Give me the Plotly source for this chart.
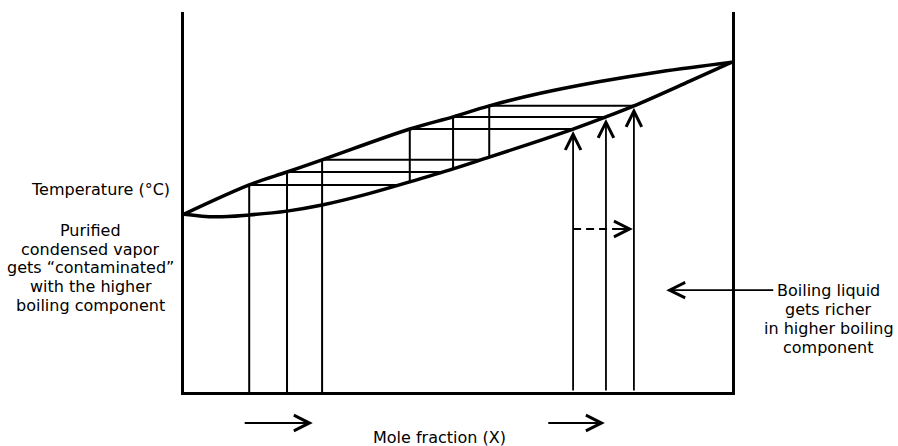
import plotly.graph_objects as go

# Vapour (dew point) curve: mole fraction vs temperature
X_VAPOR = [0.000, 0.119, 0.188, 0.252, 0.412, 0.491, 0.557, 0.650, 0.759, 0.869, 1.000]
T_VAPOR = [46.8, 54.5, 57.9, 61.1, 69.2, 72.4, 75.3, 78.6, 81.7, 84.3, 86.8]

# Liquid (boiling point) curve
X_LIQUID = [0.000, 0.057, 0.119, 0.188, 0.252, 0.327, 0.412, 0.491, 0.557, 0.631,
            0.710, 0.770, 0.821, 0.923, 1.000]
T_LIQUID = [46.8, 46.1, 46.6, 47.6, 49.2, 51.8, 55.3, 58.7, 61.8, 65.3,
            69.2, 72.4, 75.3, 81.8, 86.8]

# Three distillation staircases: boiling liquid -> vapour -> condensate -> vapour
X_BOIL = [0.710, 0.770, 0.821]
T_BOIL = [69.2, 72.4, 75.3]
X_FIRST_VAPOR = [0.412, 0.491, 0.557]
T_FIRST_CONDENSATE = [55.3, 58.7, 61.8]
X_SECOND_LIQUID = [0.393, 0.473, 0.540]
T_SECOND = [54.5, 57.9, 61.1]
X_SECOND_VAPOR = [0.119, 0.188, 0.252]

# Dashed shift of the boiling liquid composition
T_SHIFT = 42.9
# "Boiling liquid gets richer" pointer
X_RICHER = [0.880, 1.078]
T_RICHER = 26.8
# Direction arrows under the composition axis
X_AXIS_ARROWS = [(0.108, 0.235), (0.662, 0.768)]

LEFT_LINES = ["Purified", "condensed vapor", "gets \u201ccontaminated\u201d",
              "with the higher", "boiling component"]
RIGHT_LINES = ["Boiling liquid", "gets richer", "in higher boiling", "component"]

FONT = dict(family="DejaVu Sans", size=16, color="black")
INK = "black"

fig = go.Figure()

# Tie lines and condensation steps
tx, ty = [], []
for i in range(len(X_BOIL)):
    tx += [X_BOIL[i], X_FIRST_VAPOR[i], X_FIRST_VAPOR[i], None]
    ty += [T_BOIL[i], T_BOIL[i], T_FIRST_CONDENSATE[i], None]
    tx += [X_SECOND_LIQUID[i], X_SECOND_VAPOR[i], X_SECOND_VAPOR[i], None]
    ty += [T_SECOND[i], T_SECOND[i], 0, None]
fig.add_trace(go.Scatter(x=tx, y=ty, mode="lines",
                         line=dict(color=INK, width=2), hoverinfo="skip"))

# Dashed composition shift
fig.add_trace(go.Scatter(x=[X_BOIL[0], X_BOIL[2] - 0.02], y=[T_SHIFT, T_SHIFT],
                         mode="lines", line=dict(color=INK, width=2, dash="8px,5px"),
                         hoverinfo="skip"))

# Phase boundary curves
fig.add_trace(go.Scatter(x=X_VAPOR, y=T_VAPOR, mode="lines",
                         line=dict(color=INK, width=3.5, shape="spline", smoothing=1.0),
                         hoverinfo="skip"))
fig.add_trace(go.Scatter(x=X_LIQUID, y=T_LIQUID, mode="lines",
                         line=dict(color=INK, width=3.5, shape="spline", smoothing=1.0),
                         hoverinfo="skip"))

annotations = []
arrow_style = dict(showarrow=True, arrowhead=5, arrowsize=1.7, arrowwidth=1.8,
                   arrowcolor=INK, text="")

# Boiling arrows rising from the composition axis to the liquid curve
for xb, tb in zip(X_BOIL, T_BOIL):
    annotations.append(dict(x=xb, y=tb, ax=xb, ay=0, xref="x", yref="y",
                            axref="x", ayref="y", standoff=2, **arrow_style))

# Head of the dashed shift arrow
annotations.append(dict(x=X_BOIL[2], y=T_SHIFT, ax=X_BOIL[2] - 0.03, ay=T_SHIFT,
                        xref="x", yref="y", axref="x", ayref="y", standoff=1,
                        **arrow_style))

# Pointer from the right-hand note
annotations.append(dict(x=X_RICHER[0], y=T_RICHER, ax=X_RICHER[1], ay=T_RICHER,
                        xref="x", yref="y", axref="x", ayref="y", **arrow_style))

# Direction arrows below the axis
for x0, x1 in X_AXIS_ARROWS:
    annotations.append(dict(x=x1, y=-0.0816, ax=x0, ay=0, xref="x", yref="paper",
                            axref="x", ayref="pixel", **arrow_style))

# Text labels
annotations.append(dict(x=-0.153, y=0.532, xref="paper", yref="paper",
                        text="Temperature (\u00b0C)", showarrow=False, font=FONT,
                        xanchor="center", yanchor="middle"))
for k, line in enumerate(LEFT_LINES):
    annotations.append(dict(x=-0.170, y=0.424 - k * 0.0488, xref="paper", yref="paper",
                            text=line, showarrow=False, font=FONT,
                            xanchor="center", yanchor="middle"))
for k, line in enumerate(RIGHT_LINES):
    annotations.append(dict(x=1.177, y=0.268 - k * 0.05, xref="paper", yref="paper",
                            text=line, showarrow=False, font=FONT,
                            xanchor="center", yanchor="middle"))
annotations.append(dict(x=0.467, y=-0.121, xref="paper", yref="paper",
                        text="Mole fraction (X)", showarrow=False, font=FONT,
                        xanchor="center", yanchor="middle"))

axis_common = dict(showgrid=False, zeroline=False, showticklabels=False, ticks="",
                   showline=True, linecolor=INK, linewidth=2.5, fixedrange=True)

fig.update_layout(
    width=898, height=446,
    margin=dict(l=184, r=166, t=12, b=54),
    paper_bgcolor="white", plot_bgcolor="white",
    showlegend=False,
    xaxis=dict(range=[0, 1], mirror=False, **axis_common),
    yaxis=dict(range=[0, 100], mirror=True, **axis_common),
    annotations=annotations,
    font=FONT,
)

fig.write_html("out.html")
